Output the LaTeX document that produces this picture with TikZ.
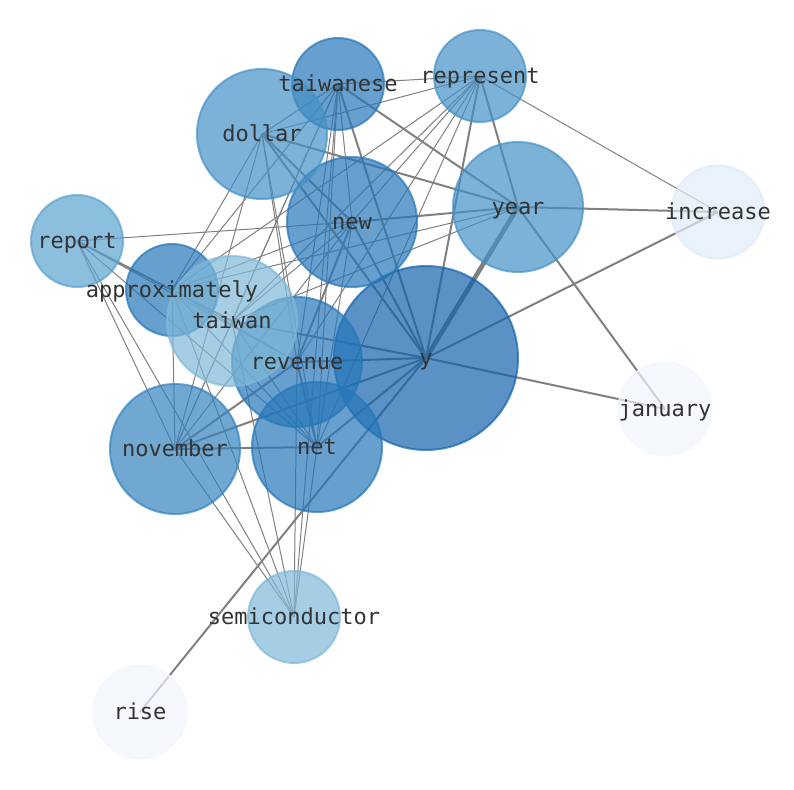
\documentclass[tikz,border=0pt]{standalone}
\usepackage{fontspec}
\usepackage{tikz}
\newfontfamily\wordfont{DejaVu Sans Mono}
\definecolor{colY}{HTML}{1563AC}
\definecolor{colB}{HTML}{2677B9}
\definecolor{colC}{HTML}{3483BD}
\definecolor{colD}{HTML}{4591C6}
\definecolor{colE}{HTML}{5BA2D0}
\definecolor{colF}{HTML}{7FB8D8}
\definecolor{colG}{HTML}{E0EBF8}
\definecolor{colH}{HTML}{F1F6FE}
\tikzset{
    wordNode/.style={
        circle,
        fill opacity=0.7,
        draw opacity=0.7,
        line width=1.5pt,
        inner sep=0pt,
        outer sep=0pt
    },
    wordLabel/.style={
        font=\wordfont\fontsize{16.5}{18}\selectfont,
        text=black!80,
        inner sep=0pt,
        anchor=base,
        yshift=-5.25pt
    },
    thinEdge/.style={draw=black!50, line width=0.75pt},
    midEdge/.style={draw=black!50, line width=1.5pt},
    fatEdge/.style={draw=black!50, line width=3.5pt}
}
% name/x/y/diameter/colour
\def\wordList{y/426/358/138/colY, revenue/297/362/97.5/colB, net/317/447/97.5/colB,
    new/352/222/97.5/colB, taiwanese/338/84/69/colB, approximately/172/290/69/colB,
    november/175/449/97.5/colC, dollar/262/134/97.5/colD, year/518/207/97.5/colD,
    represent/480/76/69/colD, report/77/241/69/colE, taiwan/232/321/97.5/colF,
    semiconductor/294/617/69/colF, increase/718/212/70/colG,
    january/665/409/70/colH, rise/140/712/70/colH}

\begin{document}
\begin{tikzpicture}[x=0.75pt, y=-0.75pt]
    \useasboundingbox (0,0) rectangle (794,790);

    % Coordinates
    \foreach \n/\px/\py/\s/\c in \wordList
        \coordinate (\n) at (\px,\py);

    % Edges
    \foreach \a/\b in {taiwanese/represent, taiwanese/dollar, taiwanese/new,
        taiwanese/revenue, taiwanese/net, taiwanese/november, taiwanese/approximately,
        taiwanese/taiwan, taiwanese/semiconductor, represent/dollar, represent/new,
        represent/revenue, represent/net, represent/approximately, represent/taiwan,
        represent/increase, dollar/approximately, dollar/revenue, dollar/net,
        dollar/november, new/report, new/approximately, new/taiwan, new/november,
        new/net, year/approximately, year/taiwan, report/approximately, report/revenue,
        report/net, report/november, report/semiconductor, approximately/revenue,
        approximately/net, approximately/november, approximately/semiconductor,
        taiwan/net, taiwan/november, taiwan/semiconductor, revenue/semiconductor,
        net/semiconductor, november/semiconductor}
        \draw[thinEdge] (\a) -- (\b);
    \foreach \a/\b in {dollar/new, dollar/y, dollar/year, taiwanese/year, taiwanese/y,
        represent/year, represent/y, new/y, new/year, new/revenue, y/revenue, y/net,
        y/november, y/taiwan, y/increase, y/january, year/increase, year/january,
        y/rise, november/net, november/revenue, revenue/net, report/taiwan}
        \draw[midEdge] (\a) -- (\b);
    \draw[fatEdge] (y) -- (year);

    % Nodes
    \foreach \n/\px/\py/\s/\c in \wordList
        \node[wordNode, minimum size=\s pt, fill=\c, draw=\c] (c-\n) at (\n) {};

    % Labels
    \foreach \n/\px/\py/\s/\c in \wordList
        \node[wordLabel] (t-\n) at (c-\n.center) {\n};
\end{tikzpicture}
\end{document}
